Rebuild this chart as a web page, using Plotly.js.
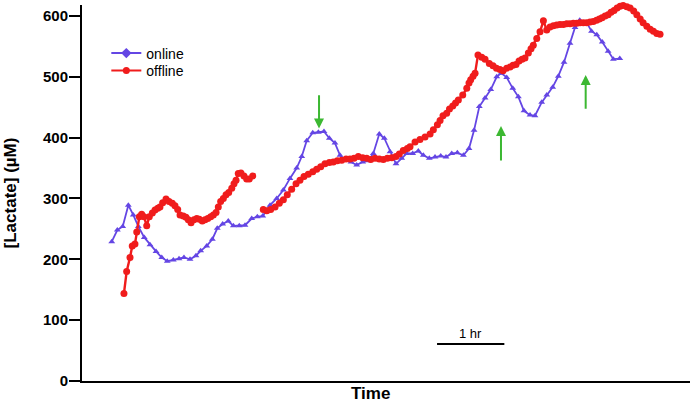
<!DOCTYPE html>
<html>
<head>
<meta charset="utf-8">
<script src="https://cdn.plot.ly/plotly-3.0.1.min.js"></script>
<style>
  html, body { margin: 0; padding: 0; background: #fff; }
  #chart { width: 693px; height: 404px; }
</style>
</head>
<body>
<div id="chart"></div>
<script>
// time in minutes from the y axis, lactate in µM
const onlineTime = [26.5, 31.5, 36.3, 41.3, 45.7, 50.2, 55.5, 60.6, 66.0, 71.1, 76.0, 81.4, 86.5, 90.9, 96.3,
  101.6, 105.8, 111.2, 116.2, 120.6, 125.4, 130.4, 134.9, 140.2, 145.3, 151.3, 156.3, 161.1, 167.6, 173.6,
  179.5, 185.4, 191.4, 195.9, 200.3, 205.7, 210.7, 215.7, 220.5, 225.5, 230.0, 234.5, 239.8, 244.9, 250.2,
  255.2, 259.7, 265.0, 269.5, 274.6, 279.9, 285.0, 289.5, 294.8, 299.8, 304.3, 309.6, 314.7, 319.8, 324.5,
  329.6, 334.6, 340.0, 345.0, 349.5, 354.2, 359.3, 364.4, 369.7, 373.6, 378.6, 384.0, 389.0, 394.0, 399.4,
  403.8, 409.8, 414.3, 419.6, 424.6, 429.7, 435.0, 439.5, 443.7, 449.9, 454.2, 458.9, 463.8, 469.0, 473.7, 479.4];
const onlineLactate = [229, 248, 254, 289, 273, 254, 236, 224, 213, 203, 197, 199, 201, 203, 200,
  206, 214, 222, 233, 251, 258, 263, 255, 255, 256, 267, 270, 271, 289, 300,
  314, 333, 350, 369, 395, 408, 409, 410, 399, 391, 371, 363, 360, 355, 360,
  362, 374, 406, 399, 377, 357, 366, 374, 374, 378, 371, 366, 368, 370, 368,
  374, 375, 371, 382, 412, 451, 465, 479, 500, 506, 499, 481, 467, 444, 437,
  436, 458, 470, 483, 501, 524, 555, 581, 593, 589, 575, 569, 557, 542, 529, 530];

const offlineTime = [37.4, 39.8, 42.8, 44.8, 47.2, 48.8, 51.1, 53.2, 55.3, 57.7, 60.0, 62.7, 65.1, 67.5, 69.5,
  71.9, 74.9, 77.6, 80.5, 82.9, 85.3, 87.4, 90.3, 92.7, 94.8, 97.2, 99.8, 102.3, 104.6, 107.2,
  109.7, 112.1, 114.7, 117.1, 119.5, 121.5, 123.6, 126.0, 128.4, 130.8, 133.5, 135.5, 137.3, 139.3, 141.7,
  144.4, 146.8, 149.1, 152.2, null,
  161.6, 164.7, 168.2, 172.1, 175.9, 179.5, 183.0, 186.9, 190.8, 194.3, 197.9, 201.7, 205.7, 209.2, 212.8,
  216.6, 220.5, 224.0, 227.6, 231.5, 235.4, 238.9, 242.5, 246.3, 250.2, 253.8, 257.4, 261.2, 265.0, 268.6,
  272.2, 276.1, 279.9, 282.9, 286.4, 290.0, 292.4, 296.9, 301.3, 305.8, 310.3, 313.2, 316.8, 319.2, 321.8,
  325.1, 327.6, 330.5, 333.0, 335.5, 339.4, 343.0, 345.0, 346.5, 348.6, 350.4, 353.0, 356.3, 359.3, 363.1,
  366.4, 369.5, 372.6, 375.3, 378.6, 381.6, 384.2, 386.9, 389.6, 392.3, 394.9, 397.9, 400.3, 402.3, 405.4,
  408.3, 411.3, 414.3, 417.2, 420.2, 423.2, 426.1, 429.1, 432.1, 435.0, 438.0, 441.0, 444.0, 446.9, 449.9,
  452.9, 455.8, 458.7, 461.2, 463.6, 466.3, 469.0, 471.6, 474.3, 477.0, 479.7, 482.4, 485.7, 488.6, 491.8,
  494.6, 497.6, 500.2, 503.5, 506.5, 509.4, 512.4, 515.3];
const offlineLactate = [144, 180, 203, 222, 225, 245, 270, 274, 270, 255, 270, 276, 281, 284, 286,
  293, 299, 295, 292, 288, 282, 273, 271, 269, 265, 260, 265, 267, 266, 263,
  265, 267, 270, 273, 277, 286, 295, 300, 306, 310, 317, 324, 330, 341, 342,
  337, 332, 332, 337, null,
  282, 280, 282, 286, 292, 298, 306, 315, 324, 330, 336, 340, 344, 348, 352,
  357, 359, 360, 362, 363, 365, 365, 366, 369, 367, 366, 364, 366, 365, 364,
  366, 367, 369, 373, 379, 382, 385, 393, 397, 401, 406, 413, 421, 428, 436,
  440, 447, 452, 457, 462, 470, 481, 490, 495, 501, 506, 536, 532, 529, 522,
  518, 514, 512, 510, 514, 516, 519, 520, 526, 529, 531, 539, 546, 552, 563,
  574, 592, 577, 582, 584, 585, 586, 586, 587, 587, 588, 588, 589, 589, 589,
  590, 591, 593, 595, 597, 600, 602, 606, 609, 613, 616, 617, 615, 613, 608,
  602, 595, 589, 583, 578, 575, 571, 570];

const yTicks = [0, 100, 200, 300, 400, 500, 600];

// green arrows: [time, tip, tail]
const arrowMarks = [
  [211.3, 415, 472],
  [373.5, 419, 360],
  [449.0, 503, 445]
];

const scaleBarStart = 316.5;
const scaleBarLength = 60; // 1 hr
const scaleBarLevel = 61;

const PURPLE = '#6446e4';
const RED = '#f01c1c';
const GREEN = '#3cb832';
const FONT = '"Liberation Sans", Arial, sans-serif';

const traces = [
  {
    x: onlineTime, y: onlineLactate, type: 'scatter', mode: 'lines+markers',
    line: { color: PURPLE, width: 1.8 },
    marker: { symbol: 'triangle-up', size: 6, color: PURPLE },
    showlegend: false, cliponaxis: false
  },
  {
    x: offlineTime, y: offlineLactate, type: 'scatter', mode: 'lines+markers',
    line: { color: RED, width: 2.4 },
    marker: { symbol: 'circle', size: 7, color: RED },
    connectgaps: false, showlegend: false, cliponaxis: false
  },
  // legend entries, one legend box each so the rows sit where the figure has them
  {
    x: [null], y: [null], type: 'scatter', mode: 'lines+markers', name: 'online', legend: 'legend',
    line: { color: PURPLE, width: 2 }, marker: { symbol: 'diamond', size: 8, color: PURPLE }
  },
  {
    x: [null], y: [null], type: 'scatter', mode: 'lines+markers', name: 'offline', legend: 'legend2',
    line: { color: RED, width: 2 }, marker: { symbol: 'circle', size: 7, color: RED }
  }
];

const annotations = arrowMarks.map(a => ({
  x: a[0], y: a[1], ax: a[0], ay: a[2], xref: 'x', yref: 'y', axref: 'x', ayref: 'y',
  text: '', showarrow: true, arrowhead: 2, arrowsize: 1, arrowwidth: 2, arrowcolor: GREEN
}));

annotations.push({
  x: scaleBarStart + scaleBarLength / 2, y: scaleBarLevel, xref: 'x', yref: 'y',
  text: '1 hr', showarrow: false, yanchor: 'bottom', yshift: 1,
  font: { family: FONT, size: 13, color: '#000' }
});

// axis title sits right on the bottom edge in the figure
annotations.push({
  x: 0.474, y: 0, xref: 'paper', yref: 'paper', yanchor: 'top', yshift: -2,
  text: '<b>Time</b>', showarrow: false, borderpad: 0,
  font: { family: FONT, size: 17, color: '#000' }
});

const legendBase = {
  xanchor: 'left', yanchor: 'middle', x: 0.04,
  bgcolor: 'rgba(0,0,0,0)', font: { family: FONT, size: 14, color: '#000' }, itemwidth: 30
};

const layout = {
  width: 693, height: 404,
  margin: { l: 82, r: 3, t: 5, b: 23 },
  paper_bgcolor: '#fff', plot_bgcolor: '#fff',
  font: { family: FONT, color: '#000' },
  showlegend: true,
  legend: Object.assign({}, legendBase, { y: 0.871 }),
  legend2: Object.assign({}, legendBase, { y: 0.825 }),
  xaxis: {
    range: [0, 542], showline: true, linecolor: '#000', linewidth: 2,
    showgrid: false, zeroline: false, showticklabels: false, ticks: ''
  },
  yaxis: {
    range: [0, 618], showline: true, linecolor: '#000', linewidth: 2,
    showgrid: false, zeroline: false,
    tickvals: yTicks, ticktext: yTicks.map(v => '<b>' + v + '</b>'),
    ticks: 'outside', ticklen: 11, tickwidth: 2, tickcolor: '#000',
    ticklabelstandoff: -2,
    tickfont: { family: FONT, size: 15, color: '#000' },
    title: { text: '<b>[Lactate] (µM)</b>', font: { family: FONT, size: 17, color: '#000' }, standoff: 22 }
  },
  shapes: [{
    type: 'line', xref: 'x', yref: 'y',
    x0: scaleBarStart, x1: scaleBarStart + scaleBarLength, y0: scaleBarLevel, y1: scaleBarLevel,
    line: { color: '#000', width: 2 }
  }],
  annotations: annotations
};

Plotly.newPlot('chart', traces, layout, { displayModeBar: false, staticPlot: true });
</script>
</body>
</html>
